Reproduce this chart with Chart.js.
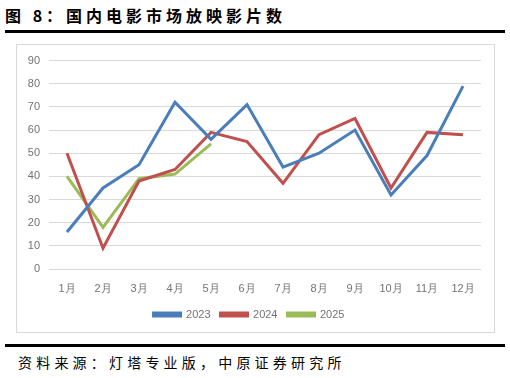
<!DOCTYPE html>
<html>
<head>
<meta charset="utf-8">
<script src="https://cdn.jsdelivr.net/npm/chart.js@4"></script>
<style>
  body { margin: 0; width: 510px; height: 378px; background: #fff; position: relative; font-family: "Noto Sans CJK SC", sans-serif; }
  #title { position: absolute; left: 5px; top: 3px; font-size: 16px; font-weight: bold; letter-spacing: 4px; color: #000; }
  .rule { position: absolute; left: 5px; width: 500px; height: 3px; background: #000; }
  #box { position: absolute; left: 16px; top: 44px; width: 477px; height: 287px; border: 1px solid #d9d9d9; }
  #source { position: absolute; left: 18px; top: 352px; font-size: 14px; letter-spacing: 4.2px; color: #000; }
</style>
</head>
<body>
<div id="title">图 8：国内电影市场放映影片数</div>
<div class="rule" style="top:30px"></div>
<div id="box"><canvas id="chart" width="477" height="287"></canvas></div>
<div class="rule" style="top:344px"></div>
<div id="source">资料来源：灯塔专业版，中原证券研究所</div>
<script>
var months = ['1月', '2月', '3月', '4月', '5月', '6月', '7月', '8月', '9月', '10月', '11月', '12月'];
var films2023 = [16, 35, 45, 72, 56, 71, 44, 50, 60, 32, 49, 79];
var films2024 = [50, 9, 38, 43, 59, 55, 37, 58, 65, 35, 59, 58];
var films2025 = [40, 18, 39, 41, 54];

var tickFont = { family: '"Liberation Sans", sans-serif', size: 11 };

function line(label, data, color) {
    return {
        label: label,
        data: data,
        borderColor: color,
        backgroundColor: color,
        borderWidth: 3,
        pointRadius: 0,
        fill: false,
        tension: 0
    };
}

new Chart(document.getElementById('chart'), {
    type: 'line',
    data: {
        labels: months,
        datasets: [
            line('2023', films2023, '#4a7ebb'),
            line('2024', films2024, '#c0504d'),
            line('2025', films2025, '#9bbb59')
        ]
    },
    options: {
        responsive: false,
        animation: false,
        layout: { padding: { top: 15, right: 13, left: 0, bottom: 2 } },
        scales: {
            x: {
                offset: true,
                grid: { display: false },
                border: { display: false },
                ticks: { color: '#737373', font: tickFont, padding: 5, maxRotation: 0 },
                afterFit: function (scale) { scale.height = 30; }
            },
            y: {
                min: 0,
                max: 90,
                grid: { color: '#d9d9d9', lineWidth: 1, drawTicks: false },
                border: { display: false },
                ticks: { stepSize: 10, color: '#737373', font: tickFont, padding: 9 },
                afterFit: function (scale) { scale.width = 32; }
            }
        },
        plugins: {
            legend: {
                position: 'bottom',
                labels: {
                    boxWidth: 27,
                    boxHeight: 3,
                    padding: 10,
                    color: '#737373',
                    font: tickFont
                }
            },
            tooltip: { enabled: false }
        }
    }
});
</script>
</body>
</html>
